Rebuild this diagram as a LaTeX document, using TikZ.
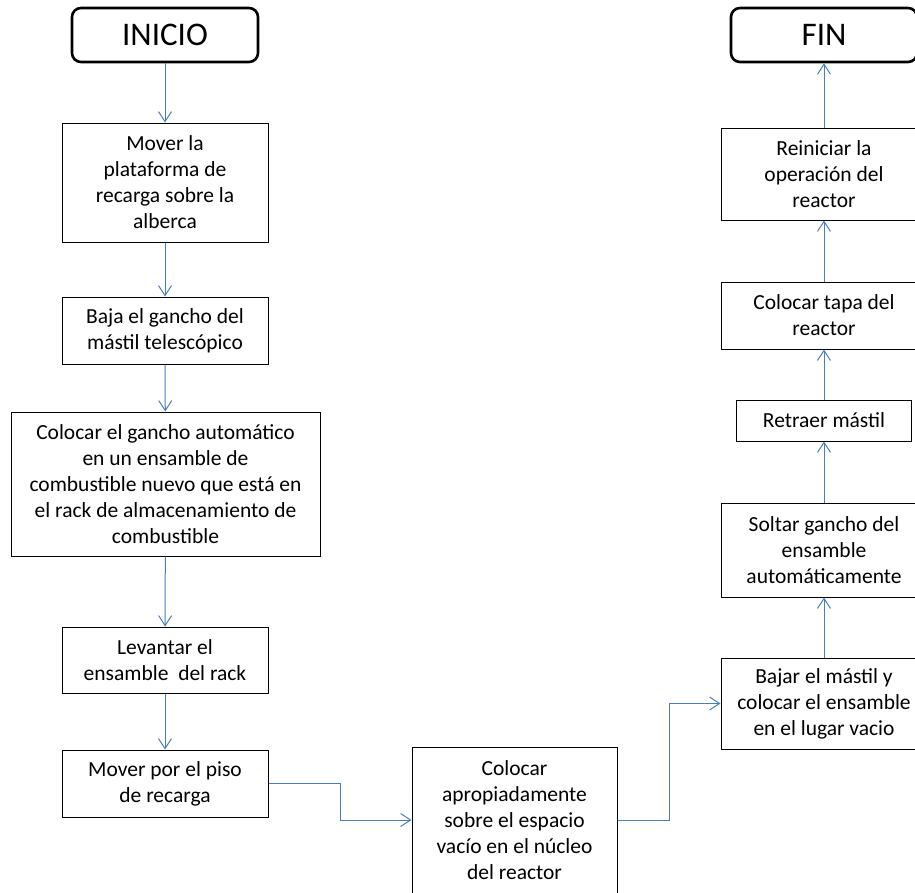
\documentclass[tikz,border=0pt]{standalone}
\usepackage{fontspec}
\setmainfont{Carlito}
\usetikzlibrary{arrows.meta}

\definecolor{flecha}{HTML}{4A7EBB}

\tikzset{
  paso/.style={draw, line width=1pt, align=center, inner sep=0pt,
    minimum width=206pt, font=\fontsize{21.5}{26}\selectfont},
  extremo/.style={draw, line width=2.6pt, rounded corners=9pt, inner sep=0pt,
    minimum width=186pt, minimum height=54pt, font=\fontsize{33}{38}\selectfont},
  liga/.style={flecha, line width=1pt, -{Straight Barb[length=10pt,width=13pt]}}
}

\begin{document}
\begin{tikzpicture}[x=1pt, y=-1pt]
    \useasboundingbox (0,0) rectangle (915,892);

    % Inicio y fin
    \node[extremo] (ini) at (165, 35) {INICIO};
    \node[extremo] (fin) at (824, 35) {FIN};

    % Columna izquierda
    \node[paso, minimum height=119pt] (b1) at (165, 182.5) {Mover la\\plataforma de\\recarga sobre la\\alberca};
    \node[paso, minimum height=67pt] (b2) at (165, 330.5) {Baja el gancho del\\m\'astil telesc\'opico};
    \node[paso, minimum height=144pt, minimum width=309pt] (b3) at (165.5, 484) {Colocar el gancho autom\'atico\\en un ensamble de\\combustible nuevo que est\'a en\\el rack de almacenamiento de\\combustible};
    \node[paso, minimum height=66pt] (b4) at (165, 660) {Levantar el\\ensamble\ \ del rack};
    \node[paso, minimum height=67pt] (b5) at (165, 783.5) {Mover por el piso\\de recarga};

    % Centro
    \node[paso, minimum height=146pt, minimum width=205pt] (b6) at (514.5, 820) {Colocar\\apropiadamente\\sobre el espacio\\vac\'io en el n\'ucleo\\del reactor};

    % Columna derecha
    \node[paso, minimum height=91pt] (b7) at (824, 703.5) {Bajar el m\'astil y\\colocar el ensamble\\en el lugar vacio};
    \node[paso, minimum height=94pt] (b8) at (824, 550) {Soltar gancho del\\ensamble\\autom\'aticamente};
    \node[paso, minimum height=41pt, minimum width=175pt] (b9) at (824, 420.5) {Retraer m\'astil};
    \node[paso, minimum height=67pt] (b10) at (824, 315.5) {Colocar tapa del\\reactor};
    \node[paso, minimum height=92pt] (b11) at (824, 174) {Reiniciar la\\operaci\'on del\\reactor};

    % Flechas
    \draw[liga] (ini) -- (b1);
    \draw[liga] (b1) -- (b2);
    \draw[liga] (b2) -- (b3);
    \draw[liga] (b3) -- (b4);
    \draw[liga] (b4) -- (b5);
    \draw[liga] (b5.east) -- ++(72,0) |- (b6.west);
    \draw[liga] (b6.east) -- ++(52,0) |- (b7.west);
    \draw[liga] (b7) -- (b8);
    \draw[liga] (b8) -- (b9);
    \draw[liga] (b9) -- (b10);
    \draw[liga] (b10) -- (b11);
    \draw[liga] (b11) -- (fin);
\end{tikzpicture}
\end{document}
